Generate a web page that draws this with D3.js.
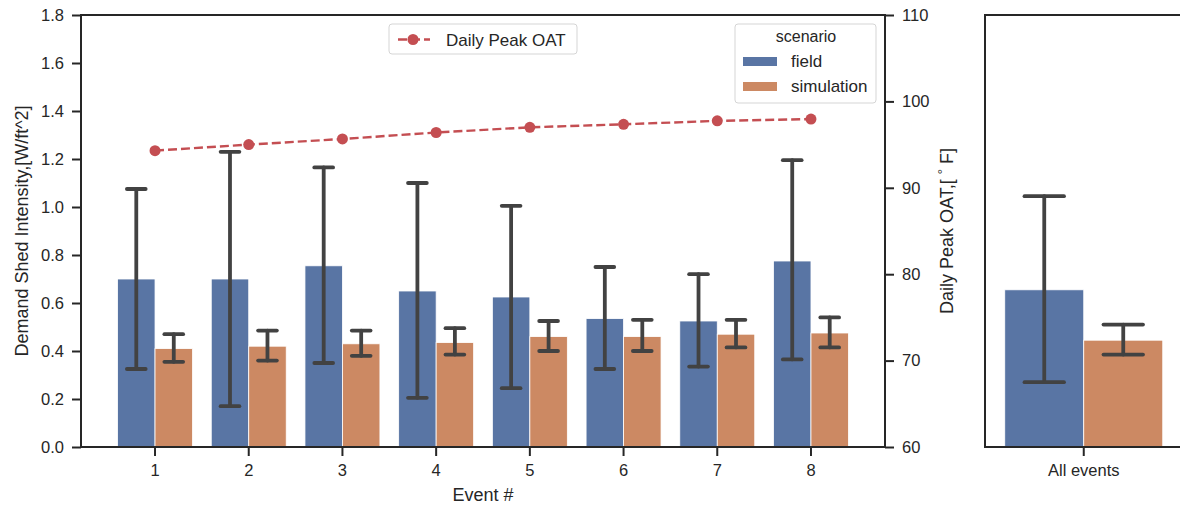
<!DOCTYPE html>
<html>
<head>
<meta charset="utf-8">
<script src="https://cdn.jsdelivr.net/npm/d3@7"></script>
<style>
  html, body { margin: 0; padding: 0; background: #ffffff; }
  svg { display: block; }
  text { font-family: "Liberation Sans", Arial, sans-serif; fill: #262626; }
</style>
</head>
<body>
<svg id="chart" width="1180" height="506"></svg>
<script>
// ---------------- data ----------------
const events = ["1", "2", "3", "4", "5", "6", "7", "8"];
const scenarios = ["field", "simulation"];
const fieldMean = [0.70, 0.70, 0.755, 0.65, 0.625, 0.535, 0.525, 0.775];
const fieldLo   = [0.325, 0.17, 0.35, 0.205, 0.245, 0.325, 0.335, 0.365];
const fieldHi   = [1.075, 1.23, 1.165, 1.10, 1.005, 0.75, 0.72, 1.195];
const simMean   = [0.41, 0.42, 0.43, 0.435, 0.46, 0.46, 0.47, 0.475];
const simLo     = [0.355, 0.36, 0.38, 0.385, 0.40, 0.40, 0.415, 0.415];
const simHi     = [0.47, 0.485, 0.485, 0.495, 0.525, 0.53, 0.53, 0.54];
const peakOAT   = [94.3, 95.0, 95.65, 96.4, 97.0, 97.35, 97.75, 97.95];
const allLabel  = ["All events"];
const allMean   = [0.655, 0.445];
const allLo     = [0.27, 0.385];
const allHi     = [1.045, 0.51];
const leftTicks  = [0, 0.2, 0.4, 0.6, 0.8, 1.0, 1.2, 1.4, 1.6, 1.8];
const rightTicks = [60, 70, 80, 90, 100, 110];

// ---------------- styles ----------------
const colors = { field: "#5975a4", simulation: "#cc8963" };
const lineColor = "#c44e52";
const errColor = "#424242";
const spineColor = "#262626";

const svg = d3.select("#chart");

// layout
const plotTop = 15, plotBottom = 447;
const mainL = 81, mainR = 885;
const allL = 985, allR = 1182.5;

const y = d3.scaleLinear().domain([0, 1.8]).range([plotBottom, plotTop]);
const y2 = d3.scaleLinear().domain([60, 110]).range([plotBottom, plotTop]);

const x = d3.scaleBand().domain(events).range([mainL, mainR]).paddingInner(0).paddingOuter(0.29);
const xs = d3.scaleBand().domain(scenarios).range([x.bandwidth() * 0.1, x.bandwidth() * 0.9]);

const xa = d3.scaleBand().domain(allLabel).range([allL, allR]).padding(0);
const xas = d3.scaleBand().domain(scenarios).range([xa.bandwidth() * 0.1, xa.bandwidth() * 0.9]);

// build rows
const rows = [];
events.forEach((e, i) => {
  rows.push({ cat: e, s: "field", m: fieldMean[i], lo: fieldLo[i], hi: fieldHi[i] });
  rows.push({ cat: e, s: "simulation", m: simMean[i], lo: simLo[i], hi: simHi[i] });
});
const allRows = scenarios.map((s, i) => ({ cat: allLabel[0], s, m: allMean[i], lo: allLo[i], hi: allHi[i] }));

function drawBars(g, data, xb, xsub, capFrac) {
  g.selectAll("rect.bar").data(data).join("rect")
    .attr("class", "bar")
    .attr("x", d => xb(d.cat) + xsub(d.s))
    .attr("width", xsub.bandwidth())
    .attr("y", d => y(d.m))
    .attr("height", d => y(0) - y(d.m))
    .attr("fill", d => colors[d.s])
    .attr("stroke", "#ffffff")
    .attr("stroke-width", 0.8);
  const cap = xb.bandwidth() * capFrac / 2;
  const eg = g.selectAll("g.err").data(data).join("g").attr("class", "err")
    .attr("stroke", errColor).attr("stroke-width", 3.8).attr("stroke-linecap", "round");
  eg.append("line")
    .attr("x1", d => xb(d.cat) + xsub(d.s) + xsub.bandwidth() / 2)
    .attr("x2", d => xb(d.cat) + xsub(d.s) + xsub.bandwidth() / 2)
    .attr("y1", d => y(d.lo)).attr("y2", d => y(d.hi));
  eg.append("line")
    .attr("x1", d => xb(d.cat) + xsub(d.s) + xsub.bandwidth() / 2 - cap)
    .attr("x2", d => xb(d.cat) + xsub(d.s) + xsub.bandwidth() / 2 + cap)
    .attr("y1", d => y(d.hi)).attr("y2", d => y(d.hi));
  eg.append("line")
    .attr("x1", d => xb(d.cat) + xsub(d.s) + xsub.bandwidth() / 2 - cap)
    .attr("x2", d => xb(d.cat) + xsub(d.s) + xsub.bandwidth() / 2 + cap)
    .attr("y1", d => y(d.lo)).attr("y2", d => y(d.lo));
}

// ---------------- main panel ----------------
const gMain = svg.append("g");
drawBars(gMain.append("g"), rows, x, xs, 0.2);

// OAT line
const line = d3.line().x((d, i) => x(events[i]) + x.bandwidth() / 2).y(d => y2(d));
gMain.append("path").datum(peakOAT)
  .attr("d", line).attr("fill", "none")
  .attr("stroke", lineColor).attr("stroke-width", 2.4)
  .attr("stroke-dasharray", "9,4");
gMain.selectAll("circle.oat").data(peakOAT).join("circle")
  .attr("class", "oat")
  .attr("cx", (d, i) => x(events[i]) + x.bandwidth() / 2)
  .attr("cy", d => y2(d)).attr("r", 5.5).attr("fill", lineColor);

// frame
gMain.append("rect").attr("x", mainL).attr("y", plotTop)
  .attr("width", mainR - mainL).attr("height", plotBottom - plotTop)
  .attr("fill", "none").attr("stroke", spineColor).attr("stroke-width", 2);

function styleAxis(g) {
  g.select(".domain").remove();
  g.selectAll(".tick line").attr("stroke", spineColor).attr("stroke-width", 2);
  g.selectAll(".tick text").style("font-size", "16.5px").attr("fill", spineColor);
}

svg.append("g").attr("transform", `translate(${mainL},0)`)
  .call(d3.axisLeft(y).tickValues(leftTicks).tickFormat(d3.format(".1f")).tickSize(9).tickPadding(8).tickSizeOuter(0))
  .call(styleAxis);
svg.append("g").attr("transform", `translate(${mainR},0)`)
  .call(d3.axisRight(y2).tickValues(rightTicks).tickFormat(d3.format("d")).tickSize(9).tickPadding(8).tickSizeOuter(0))
  .call(styleAxis);
svg.append("g").attr("transform", `translate(0,${plotBottom})`)
  .call(d3.axisBottom(x).tickSize(9).tickPadding(8).tickSizeOuter(0))
  .call(styleAxis);

// axis labels
svg.append("text").attr("x", (mainL + mainR) / 2).attr("y", 501)
  .attr("text-anchor", "middle").style("font-size", "18px").text("Event #");
svg.append("text").attr("transform", `translate(28,${(plotTop + plotBottom) / 2}) rotate(-90)`)
  .attr("text-anchor", "middle").style("font-size", "18px").text("Demand Shed Intensity,[W/ft^2]");
const rl = svg.append("text").attr("transform", `translate(953,${(plotTop + plotBottom) / 2}) rotate(-90)`)
  .attr("text-anchor", "middle").style("font-size", "18px");
rl.append("tspan").text("Daily Peak OAT,[ ");
rl.append("tspan").attr("dy", -6).style("font-size", "13px").text("°");
rl.append("tspan").attr("dy", 6).text(" F]");

// ---------------- legends ----------------
const lg1 = svg.append("g");
lg1.append("rect").attr("x", 389).attr("y", 24).attr("width", 188).attr("height", 30)
  .attr("rx", 3).attr("fill", "#ffffff").attr("stroke", "#d5d5d5").attr("stroke-width", 1);
lg1.append("line").attr("x1", 397).attr("x2", 430).attr("y1", 39.5).attr("y2", 39.5)
  .attr("stroke", lineColor).attr("stroke-width", 2.4).attr("stroke-dasharray", "9,4").attr("stroke-dashoffset", -1);
lg1.append("circle").attr("cx", 413).attr("cy", 39.5).attr("r", 5.5).attr("fill", lineColor);
lg1.append("text").attr("x", 446).attr("y", 45.5).style("font-size", "17px").text("Daily Peak OAT");

const lg2 = svg.append("g");
lg2.append("rect").attr("x", 735).attr("y", 24).attr("width", 141).attr("height", 79)
  .attr("rx", 3).attr("fill", "#ffffff").attr("stroke", "#d5d5d5").attr("stroke-width", 1);
lg2.append("text").attr("x", 806).attr("y", 42).attr("text-anchor", "middle")
  .style("font-size", "16px").text("scenario");
scenarios.forEach((s, i) => {
  lg2.append("rect").attr("x", 743).attr("y", 57 + i * 25).attr("width", 34).attr("height", 9)
    .attr("fill", colors[s]);
  lg2.append("text").attr("x", 791).attr("y", 67 + i * 25).style("font-size", "17px").text(s);
});

// ---------------- all-events panel ----------------
const gAll = svg.append("g");
drawBars(gAll.append("g"), allRows, xa, xas, 0.2);
gAll.append("rect").attr("x", allL).attr("y", plotTop)
  .attr("width", allR - allL).attr("height", plotBottom - plotTop)
  .attr("fill", "none").attr("stroke", spineColor).attr("stroke-width", 2);
svg.append("g").attr("transform", `translate(0,${plotBottom})`)
  .call(d3.axisBottom(xa).tickSize(9).tickPadding(8).tickSizeOuter(0))
  .call(styleAxis);
</script>
</body>
</html>
